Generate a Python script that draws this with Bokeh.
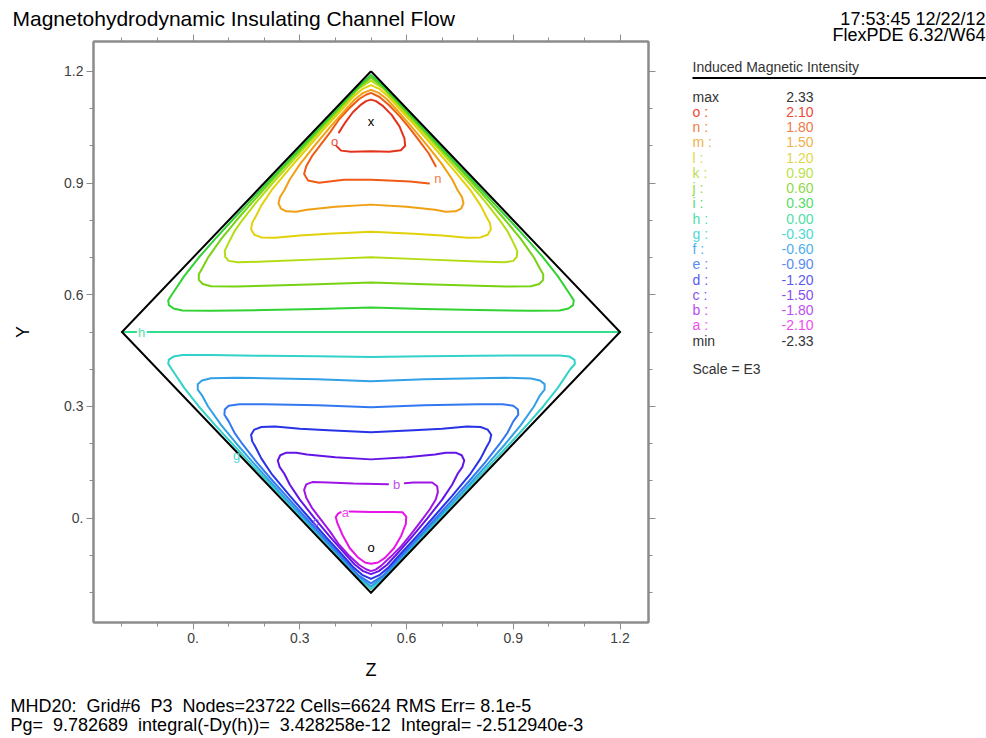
from bokeh.plotting import figure
from bokeh.models import (Label, FixedTicker, LinearAxis, Range1d, CustomJSTickFormatter)
from bokeh.layouts import row, column
from bokeh.embed import file_html
from bokeh.resources import INLINE

FONT = "Liberation Sans"
GRAY = "#8c8c8c"
NB = "\u00a0"

# ---------------- data ----------------
domain_x = [0.5, 1.2, 0.5, -0.2, 0.5]
domain_y = [1.2, 0.5, -0.2, 0.5, 1.2]

level_keys = ["o", "n", "m", "l", "k", "j", "i", "h", "g", "f", "e", "d", "c", "b", "a"]
level_values = [2.10, 1.80, 1.50, 1.20, 0.90, 0.60, 0.30, 0.00,
                -0.30, -0.60, -0.90, -1.20, -1.50, -1.80, -2.10]
field_max = 2.33
field_min = -2.33
line_colors = ["#e4321a", "#f05a14", "#f0a014", "#e2d00a", "#b4dc14", "#78d214", "#32d232",
               "#32dc8c", "#32d2c8", "#32a0e6", "#3278f0", "#2832e6", "#6414e6", "#a014e6", "#e614e6"]
text_colors = ["#ee4a36", "#f07a46", "#f0b24a", "#e0d84a", "#bce04c", "#90da46", "#56dc68",
               "#4ee0a4", "#4ed8d4", "#4eaeee", "#5a8af2", "#5a5af0", "#8a4ef0", "#bc4ef0", "#ee4eee"]

# contour o (2.10), open: gap for label
o_x = [0.41, 0.428, 0.449, 0.47, 0.486, 0.5, 0.514, 0.532, 0.558, 0.58, 0.594, 0.596, 0.584, 0.551,
       0.5, 0.444, 0.416, 0.403]
o_y = [1.036, 1.063, 1.09, 1.109, 1.12, 1.124, 1.12, 1.108, 1.083, 1.052, 1.02, 1.0, 0.988, 0.984,
       0.985, 0.984, 0.987, 0.999]
# contour n (1.80), open
n_x = [0.682, 0.662, 0.637, 0.609, 0.581, 0.551, 0.524, 0.5, 0.486, 0.466, 0.436, 0.408, 0.385, 0.357,
       0.334, 0.318, 0.312, 0.323, 0.354, 0.424, 0.5, 0.565, 0.61, 0.663]
n_y = [0.945, 0.98, 1.012, 1.047, 1.079, 1.109, 1.131, 1.142, 1.137, 1.125, 1.098, 1.068, 1.036, 1.001,
       0.972, 0.945, 0.924, 0.907, 0.901, 0.909, 0.909, 0.906, 0.904, 0.899]
# contour m (1.50)
m_x = [0.5, 0.4, 0.32, 0.29, 0.262, 0.247, 0.24, 0.244, 0.256, 0.272, 0.30, 0.341, 0.385, 0.431, 0.455,
       0.478, 0.5, 0.522, 0.545, 0.569, 0.615, 0.659, 0.70, 0.728, 0.744, 0.756, 0.76, 0.753, 0.738, 0.71,
       0.68, 0.6, 0.5]
m_y = [0.842, 0.836, 0.828, 0.823, 0.824, 0.831, 0.845, 0.862, 0.88, 0.91, 0.95, 1.00, 1.05, 1.10, 1.125,
       1.142, 1.15, 1.142, 1.125, 1.10, 1.05, 1.00, 0.95, 0.91, 0.88, 0.862, 0.845, 0.831, 0.824, 0.823,
       0.828, 0.836, 0.842]
# contour l (1.20)
l_x = [0.5, 0.38, 0.3, 0.23, 0.192, 0.172, 0.163, 0.166, 0.176, 0.192, 0.22, 0.272, 0.327, 0.373, 0.421,
       0.449, 0.475, 0.5, 0.525, 0.551, 0.579, 0.627, 0.673, 0.728, 0.78, 0.808, 0.824, 0.834, 0.837, 0.828,
       0.808, 0.77, 0.7, 0.62, 0.5]
l_y = [0.769, 0.764, 0.759, 0.753, 0.754, 0.761, 0.776, 0.793, 0.81, 0.84, 0.88, 0.94, 1.00, 1.05, 1.10,
       1.13, 1.152, 1.163, 1.152, 1.13, 1.10, 1.05, 1.00, 0.94, 0.88, 0.84, 0.81, 0.793, 0.776, 0.761,
       0.754, 0.753, 0.759, 0.764, 0.769]
# contour k (0.90)
k_x = [0.5, 0.35, 0.2, 0.125, 0.1, 0.09, 0.089, 0.10, 0.116, 0.138, 0.179, 0.224, 0.271, 0.318, 0.366,
       0.414, 0.443, 0.467, 0.5, 0.533, 0.557, 0.586, 0.634, 0.682, 0.729, 0.776, 0.821, 0.862, 0.884,
       0.90, 0.911, 0.91, 0.9, 0.875, 0.8, 0.65, 0.5]
k_y = [0.701, 0.695, 0.689, 0.687, 0.691, 0.702, 0.718, 0.74, 0.77, 0.80, 0.85, 0.90, 0.95, 1.00, 1.05,
       1.10, 1.13, 1.155, 1.175, 1.155, 1.13, 1.10, 1.05, 1.00, 0.95, 0.90, 0.85, 0.80, 0.77,
       0.74, 0.718, 0.702, 0.691, 0.687, 0.689, 0.695, 0.701]
# contour j (0.60)
j_x = [0.5, 0.35, 0.2, 0.12, 0.05, 0.027, 0.016, 0.016, 0.025, 0.042, 0.079, 0.122, 0.168, 0.215, 0.263,
       0.312, 0.361, 0.41, 0.439, 0.469, 0.5, 0.531, 0.561, 0.59, 0.639, 0.688, 0.737, 0.785, 0.832, 0.878,
       0.921, 0.958, 0.975, 0.984, 0.984, 0.973, 0.95, 0.88, 0.8, 0.65, 0.5]
j_y = [0.633, 0.628, 0.624, 0.622, 0.623, 0.629, 0.64, 0.655, 0.67, 0.70, 0.75, 0.80, 0.85, 0.90, 0.95,
       1.00, 1.05, 1.10, 1.13, 1.16, 1.183, 1.16, 1.13, 1.10, 1.05, 1.00, 0.95, 0.90, 0.85, 0.80,
       0.75, 0.70, 0.67, 0.655, 0.64, 0.629, 0.623, 0.622, 0.624, 0.628, 0.633]
# contour i (0.30)
i_x = [0.5, 0.35, 0.2, 0.05, -0.03, -0.055, -0.068, -0.07, -0.06, -0.025, 0.016, 0.062, 0.11, 0.159,
       0.208, 0.258, 0.307, 0.357, 0.406, 0.436, 0.466, 0.5, 0.534, 0.564, 0.594, 0.643, 0.693, 0.742,
       0.792, 0.841, 0.89, 0.938, 0.984, 1.025, 1.06, 1.07, 1.068, 1.055, 1.03, 0.95, 0.8, 0.65, 0.5]
i_y = [0.566, 0.562, 0.559, 0.557, 0.558, 0.563, 0.572, 0.585, 0.60, 0.65, 0.70, 0.75, 0.80, 0.85,
       0.90, 0.95, 1.00, 1.05, 1.10, 1.13, 1.16, 1.19, 1.16, 1.13, 1.10, 1.05, 1.00, 0.95,
       0.90, 0.85, 0.80, 0.75, 0.70, 0.65, 0.60, 0.585, 0.572, 0.563, 0.558, 0.557, 0.559, 0.562, 0.566]
# contour h (0.00), two pieces around its label
h1_x = [-0.2, -0.16]
h2_x = [-0.128, 1.2]
h_y = [0.5, 0.5]
# contour g (-0.30)
g_x = [0.5, 0.35, 0.2, 0.05, -0.03, -0.055, -0.068, -0.07, -0.06, -0.025, 0.016, 0.062, 0.11, 0.159,
       0.208, 0.258, 0.307, 0.357, 0.406, 0.436, 0.466, 0.5, 0.534, 0.564, 0.594, 0.643, 0.693, 0.742,
       0.792, 0.841, 0.89, 0.938, 0.984, 1.025, 1.06, 1.073, 1.072, 1.058, 1.03, 0.95, 0.8, 0.65, 0.5]
g_y = [0.433, 0.435, 0.436, 0.438, 0.438, 0.434, 0.426, 0.415, 0.40, 0.35, 0.30, 0.25, 0.20, 0.15,
       0.10, 0.05, 0.0, -0.05, -0.10, -0.13, -0.16, -0.19, -0.16, -0.13, -0.10, -0.05, 0.0, 0.05,
       0.10, 0.15, 0.20, 0.25, 0.30, 0.35, 0.40, 0.414, 0.425, 0.434, 0.437, 0.437, 0.436, 0.435, 0.433]
# contour f (-0.60)
f_x = [0.5, 0.35, 0.2, 0.12, 0.05, 0.025, 0.013, 0.013, 0.025, 0.042, 0.079, 0.122, 0.168, 0.215, 0.263,
       0.312, 0.361, 0.41, 0.439, 0.469, 0.5, 0.531, 0.561, 0.59, 0.639, 0.688, 0.737, 0.785, 0.832, 0.878,
       0.921, 0.958, 0.975, 0.988, 0.988, 0.975, 0.95, 0.88, 0.8, 0.65, 0.5]
f_y = [0.368, 0.373, 0.376, 0.377, 0.376, 0.37, 0.36, 0.345, 0.33, 0.30, 0.25, 0.20, 0.15, 0.10, 0.05,
       0.0, -0.05, -0.10, -0.13, -0.16, -0.183, -0.16, -0.13, -0.10, -0.05, 0.0, 0.05, 0.10, 0.15, 0.20,
       0.25, 0.30, 0.33, 0.345, 0.36, 0.37, 0.375, 0.377, 0.376, 0.373, 0.368]
# contour e (-0.90)
e_x = [0.5, 0.35, 0.2, 0.13, 0.1, 0.089, 0.088, 0.10, 0.116, 0.138, 0.179, 0.224, 0.271, 0.318, 0.366,
       0.414, 0.443, 0.467, 0.5, 0.533, 0.557, 0.586, 0.634, 0.682, 0.729, 0.776, 0.821, 0.862, 0.884,
       0.90, 0.914, 0.913, 0.9, 0.87, 0.8, 0.65, 0.5]
e_y = [0.298, 0.303, 0.306, 0.306, 0.302, 0.292, 0.278, 0.26, 0.23, 0.20, 0.15, 0.10, 0.05, 0.0, -0.05,
       -0.10, -0.13, -0.155, -0.175, -0.155, -0.13, -0.10, -0.05, 0.0, 0.05, 0.10, 0.15, 0.20, 0.23,
       0.26, 0.278, 0.292, 0.302, 0.306, 0.306, 0.303, 0.298]
# contour d (-1.20)
d_x = [0.5, 0.38, 0.3, 0.23, 0.192, 0.172, 0.163, 0.166, 0.176, 0.192, 0.22, 0.272, 0.327, 0.373, 0.421,
       0.449, 0.475, 0.5, 0.525, 0.551, 0.579, 0.627, 0.673, 0.728, 0.78, 0.808, 0.824, 0.834, 0.838, 0.828,
       0.808, 0.77, 0.7, 0.62, 0.5]
d_y = [0.231, 0.236, 0.240, 0.246, 0.245, 0.238, 0.224, 0.207, 0.19, 0.16, 0.12, 0.06, 0.0, -0.05, -0.10,
       -0.13, -0.152, -0.163, -0.152, -0.13, -0.10, -0.05, 0.0, 0.06, 0.12, 0.16, 0.19, 0.207, 0.224, 0.238,
       0.245, 0.246, 0.240, 0.236, 0.231]
# contour c (-1.50)
c_x = [0.5, 0.4, 0.32, 0.29, 0.262, 0.245, 0.238, 0.243, 0.256, 0.272, 0.30, 0.341, 0.385, 0.431, 0.455,
       0.478, 0.5, 0.522, 0.545, 0.569, 0.615, 0.659, 0.70, 0.728, 0.744, 0.757, 0.762, 0.755, 0.738, 0.71,
       0.68, 0.6, 0.5]
c_y = [0.158, 0.164, 0.171, 0.176, 0.176, 0.169, 0.155, 0.138, 0.12, 0.09, 0.05, 0.0, -0.05, -0.10, -0.125,
       -0.142, -0.15, -0.142, -0.125, -0.10, -0.05, 0.0, 0.05, 0.09, 0.12, 0.138, 0.155, 0.169, 0.176, 0.176,
       0.171, 0.164, 0.158]
# contour b (-1.80), open
b_x = [0.595, 0.62, 0.672, 0.686, 0.688, 0.682, 0.664, 0.639, 0.611, 0.585, 0.556, 0.528, 0.513, 0.5,
       0.486, 0.466, 0.436, 0.408, 0.385, 0.357, 0.334, 0.318, 0.312, 0.318, 0.335, 0.38, 0.45, 0.548]
b_y = [0.094, 0.096, 0.096, 0.086, 0.07, 0.05, 0.022, -0.01, -0.045, -0.075, -0.103, -0.128, -0.138, -0.142,
       -0.137, -0.125, -0.098, -0.068, -0.036, -0.001, 0.028, 0.055, 0.076, 0.091, 0.097, 0.096, 0.093, 0.091]
# contour a (-2.10), open
a_x = [0.44, 0.5, 0.56, 0.589, 0.599, 0.598, 0.585, 0.565, 0.54, 0.52, 0.5, 0.483, 0.462, 0.44, 0.42,
       0.405, 0.401, 0.408, 0.415]
a_y = [0.018, 0.017, 0.017, 0.016, 0.004, -0.015, -0.047, -0.08, -0.106, -0.119, -0.122, -0.119, -0.104,
       -0.08, -0.045, -0.012, 0.003, 0.013, 0.016]

contour_lines = [(o_x, o_y, "o"), (n_x, n_y, "n"), (m_x, m_y, "m"), (l_x, l_y, "l"), (k_x, k_y, "k"),
                 (j_x, j_y, "j"), (i_x, i_y, "i"), (h1_x, h_y, "h"), (h2_x, h_y, "h"), (g_x, g_y, "g"),
                 (f_x, f_y, "f"), (e_x, e_y, "e"), (d_x, d_y, "d"), (c_x, c_y, "c"), (b_x, b_y, "b"),
                 (a_x, a_y, "a")]

# contour labels: (text, x, y, key or None for black)
contour_labels = [("o", 0.398, 1.012, "o"), ("n", 0.688, 0.912, "n"), ("h", -0.145, 0.5, "h"),
                  ("b", 0.572, 0.091, "b"), ("a", 0.428, 0.015, "a"), ("g", 0.122, 0.168, "g"),
                  ("c", 0.345, -0.008, "c"), ("x", 0.5, 1.066, None), ("o", 0.5, -0.079, None)]

axis_ticks = [0.0, 0.3, 0.6, 0.9, 1.2]
axis_minor_ticks = [-0.2, -0.1, 0.1, 0.2, 0.4, 0.5, 0.7, 0.8, 1.0, 1.1]

title_text = "Magnetohydrodynamic Insulating Channel Flow"
stamp_time = "17:53:45 12/22/12"
stamp_prog = "FlexPDE 6.32/W64"
legend_title = "Induced Magnetic Intensity"
scale_text = "Scale = E3"
footer_1 = f"MHD20: {NB}Grid#6 {NB}P3 {NB}Nodes=23722 Cells=6624 RMS Err= 8.1e-5"
footer_2 = f"Pg= {NB}9.782689 {NB}integral(-Dy(h))= {NB}3.428258e-12 {NB}Integral= -2.512940e-3"


def no_align(fig):
    try:
        fig.frame_align = False
    except Exception:
        pass


def canvas(w, h, x0, x1, ytop, ybot):
    c = figure(width=w, height=h, x_range=Range1d(x0, x1), y_range=Range1d(ybot, ytop),
               output_backend="svg", toolbar_location=None, min_border=0, title=None,
               x_axis_location=None, y_axis_location=None)
    c.outline_line_color = None
    c.background_fill_color = "white"
    c.border_fill_color = "white"
    c.xgrid.visible = False
    c.ygrid.visible = False
    no_align(c)
    return c


def put_text(fig, txt, px, base, size, color="black", align="left"):
    # position given by the text baseline (canvas pixels, y downward); drawn centred vertically
    fig.add_layout(Label(x=px, y=base - 0.3465 * size, text=txt, text_font=FONT,
                         text_font_size=f"{size}px", text_color=color, text_align=align,
                         text_baseline="middle"))


# ---------------- main plot (canvas rows 31..686) ----------------
FL = 93
PW = 660
TOP = 31

p = figure(width=PW, height=686 - TOP, x_range=Range1d(-0.28, 1.28), y_range=Range1d(-0.28, 1.28),
           output_backend="svg", toolbar_location=None, title=None,
           min_border_left=FL, min_border_right=PW - 648, min_border_top=41 - TOP,
           min_border_bottom=686 - 622, x_axis_label="Z", y_axis_label="Y")
no_align(p)
p.background_fill_color = "white"
p.border_fill_color = "white"
p.outline_line_color = GRAY
p.outline_line_width = 2
p.xgrid.visible = False
p.ygrid.visible = False

fmt_code = "return Math.abs(tick) < 1e-9 ? '0.' : tick.toFixed(1);"


def style_axis(ax, show_labels):
    ax.ticker = FixedTicker(ticks=axis_ticks, minor_ticks=axis_minor_ticks)
    ax.formatter = CustomJSTickFormatter(code=fmt_code if show_labels else "return '';")
    ax.axis_line_color = GRAY
    ax.axis_line_width = 2
    ax.major_tick_line_color = GRAY
    ax.minor_tick_line_color = GRAY
    ax.major_tick_out = 7
    ax.major_tick_in = 0
    ax.minor_tick_out = 4
    ax.minor_tick_in = 0
    ax.major_label_text_font = FONT
    ax.major_label_text_font_size = "14px" if show_labels else "0px"
    ax.major_label_text_color = "#404040"
    ax.major_label_standoff = 3 if show_labels else 0
    ax.axis_label_text_font = FONT
    ax.axis_label_text_font_style = "normal"
    ax.axis_label_text_font_size = "18px"
    ax.axis_label_text_color = "black"


style_axis(p.xaxis[0], True)
style_axis(p.yaxis[0], True)
p.xaxis[0].axis_label_standoff = 14
p.yaxis[0].axis_label_standoff = 28

top_axis = LinearAxis()
right_axis = LinearAxis()
style_axis(top_axis, False)
style_axis(right_axis, False)
p.add_layout(top_axis, "above")
p.add_layout(right_axis, "right")

col = dict(zip(level_keys, line_colors))
tcol = dict(zip(level_keys, text_colors))

for xs, ys, key in contour_lines:
    p.line(xs, ys, line_color=col[key], line_width=2, line_join="round", line_cap="round")

p.line(domain_x, domain_y, line_color="black", line_width=2, line_join="miter")

for txt, x, y, key in contour_labels:
    p.add_layout(Label(x=x, y=y, text=txt, text_font=FONT, text_font_size="13px",
                       text_color=(tcol[key] if key else "black"),
                       text_align="center", text_baseline="middle"))

# ---------------- header (title) ----------------
hdr = canvas(PW, TOP, 0, PW, 0, TOP)
put_text(hdr, title_text, 12, 25, 21)

# ---------------- right-hand panel: stamps and legend ----------------
q = canvas(986 - PW, 686, PW, 986, 0, 686)
put_text(q, stamp_time, 985, 25, 18, align="right")
put_text(q, stamp_prog, 985, 41, 18, align="right")
put_text(q, legend_title, 692, 71.5, 14, color="#333333")
q.line([692, 986], [77.5, 77.5], line_color="black", line_width=2)

row_step = 15.25
put_text(q, "max", 692, 101, 14, color="#333333")
put_text(q, f"{field_max:.2f}", 813, 101, 14, color="#333333", align="right")
for idx, (key, val) in enumerate(zip(level_keys, level_values)):
    base = 101 + row_step * (idx + 1)
    put_text(q, f"{key} :", 692, base, 14, color=tcol[key])
    put_text(q, f"{val:.2f}", 813, base, 14, color=tcol[key], align="right")
put_text(q, "min", 692, 101 + row_step * 16, 14, color="#333333")
put_text(q, f"{field_min:.2f}", 813, 101 + row_step * 16, 14, color="#333333", align="right")
put_text(q, scale_text, 692, 373.5, 14, color="#333333")

# ---------------- footer ----------------
ftr = canvas(986, 738 - 686, 0, 986, 686, 738)
put_text(ftr, footer_1, 10, 711.5, 18)
put_text(ftr, footer_2, 10, 730.5, 18)

layout = column(row(column(hdr, p, spacing=0), q, spacing=0), ftr, spacing=0)
open("out.html", "w").write(file_html(layout, INLINE))
